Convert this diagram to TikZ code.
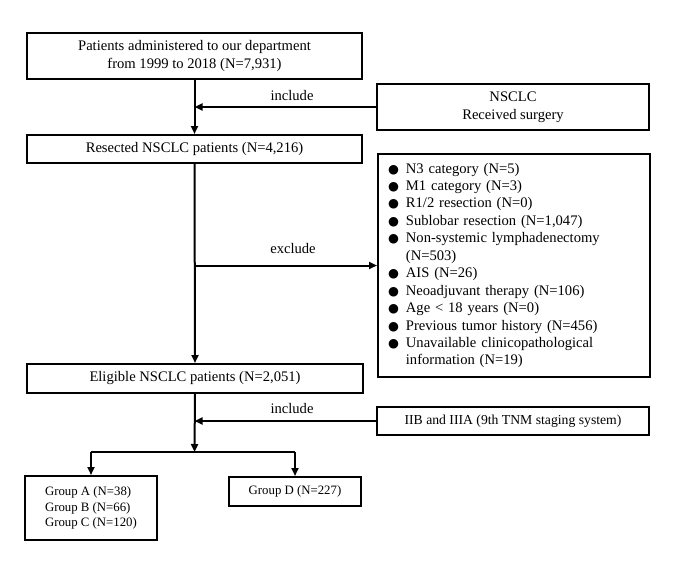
\documentclass[tikz,border=0pt]{standalone}
\usepackage{fontspec}
\setmainfont{Liberation Serif}
\newfontfamily\symfont{DejaVu Sans}
\usetikzlibrary{arrows.meta, positioning}

\newcommand{\bltsym}{{\symfont\fontsize{12.5}{12.5}\selectfont ●}}
\newcommand{\blt}{\bltsym\hspace{7pt}}
\newcommand{\nob}{\phantom{\bltsym}\hspace{7pt}}

\begin{document}
\begin{tikzpicture}[x=1pt, y=-1pt,
    box/.style={rectangle, draw=black, line width=2pt, inner sep=0pt,
                font=\fontsize{14.6}{18}\selectfont, align=center},
    arr/.style={-{Triangle[length=8pt, width=7pt]}, line width=2pt},
    lbl/.style={font=\fontsize{14.6}{18}\selectfont},
  ]
    \useasboundingbox (0,0) rectangle (685,568);

    % Hauptstrang (links)
    \node[box, minimum width=335pt, minimum height=46pt] (pat)
      at (194.5,56) {Patients administered to our department\\from 1999 to 2018 (N=7,931)};
    \node[box, minimum width=335pt, minimum height=28pt] (res)
      at (194.5,149) {Resected NSCLC patients (N=4,216)};
    \node[box, minimum width=336pt, minimum height=29pt] (elig)
      at (195,378.5) {Eligible NSCLC patients (N=2,051)};

    % Kriterien (rechts)
    \node[box, minimum width=272pt, minimum height=46pt] (nsclc)
      at (513,107) {NSCLC\\Received surgery};
    \node[box, minimum height=223pt, text width=252pt, inner xsep=10pt,
          align=left, font=\fontsize{14.6}{17.45}\selectfont] (excl)
      at (514,265.5) {%
        \blt N3 category (N=5)\\
        \blt M1 category (N=3)\\
        \blt R1/2 resection (N=0)\\
        \blt Sublobar resection (N=1,047)\\
        \blt Non-systemic lymphadenectomy\\
        \nob (N=503)\\
        \blt AIS (N=26)\\
        \blt Neoadjuvant therapy (N=106)\\
        \blt Age < 18 years (N=0)\\
        \blt Previous tumor history (N=456)\\
        \blt Unavailable clinicopathological\\
        \nob information (N=19)};
    \node[box, minimum width=272pt, minimum height=28pt,
          font=\fontsize{13.7}{16}\selectfont] (stage)
      at (513,421) {IIB and IIIA (9th TNM staging system)};

    % Gruppen
    \node[box, minimum width=132pt, minimum height=64pt, align=left,
          font=\fontsize{12.8}{15.5}\selectfont] (grpabc)
      at (91,508) {Group A (N=38)\\Group B (N=66)\\Group C (N=120)};
    \node[box, minimum width=132pt, minimum height=29pt,
          font=\fontsize{12.8}{15.5}\selectfont] (grpd)
      at (295,491.5) {Group D (N=227)};

    % Oklar
    \coordinate (inc1) at (pat.south |- nsclc.west);
    \coordinate (exc1) at (pat.south |- excl.west);
    \coordinate (inc2) at (pat.south |- stage.west);
    \coordinate (split) at (194.5,452);
    \draw[arr] (pat.south) -- (res.north);
    \draw[arr] (nsclc.west) -- (inc1);
    \draw[arr] (res.south) -- (elig.north);
    \draw[arr] (exc1) -- (excl.west);
    \draw[arr] (elig.south) -- (split);
    \draw[arr] (stage.west) -- (inc2);
    \draw[line width=2pt] (grpabc.north |- split) -- (grpd.north |- split);
    \draw[arr] (grpabc.north |- split) -- (grpabc.north);
    \draw[arr] (grpd.north |- split) -- (grpd.north);

    \node[lbl] (lin1) at (292,96) {include};
    \node[lbl] (lex) at (293,249) {exclude};
    \node[lbl] (lin2) at (292,408) {include};
  \end{tikzpicture}
\end{document}
